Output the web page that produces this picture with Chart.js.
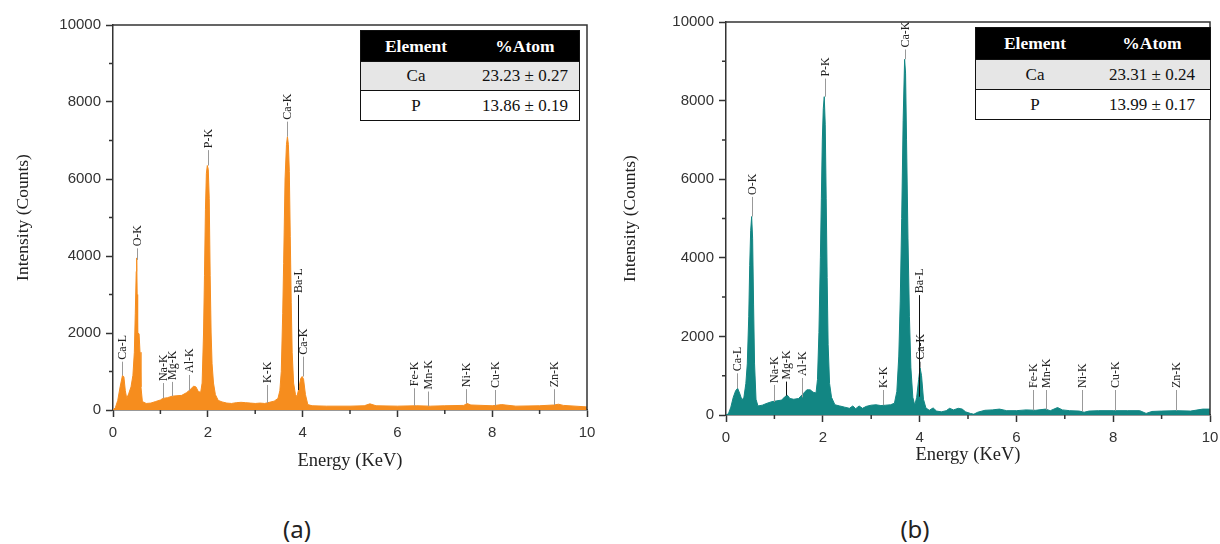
<!DOCTYPE html>
<html>
<head>
<meta charset="utf-8">
<script src="https://cdn.jsdelivr.net/npm/chart.js@4.4.0/dist/chart.umd.min.js"></script>
<style>
  body { margin: 0; width: 1220px; height: 544px; background: #fff; position: relative; overflow: hidden; }
  .box { position: absolute; top: 0; height: 480px; }
  #boxA { left: 0; width: 600px; }
  #boxB { left: 610px; width: 610px; }
  table.atom { position: absolute; border-collapse: collapse; font-family: "Liberation Serif", serif; font-size: 17px; color: #111; background: #fff; }
  table.atom td, table.atom th { padding: 0; text-align: center; border-bottom: 1px solid #111; }
  table.atom th { background: #000; color: #fff; font-weight: bold; font-size: 17.5px; }
  table.atom tr.grey td { background: #e6e6e6; }
  table.atom { border: 1.5px solid #111; }
  #tabA { left: 360px; top: 30px; width: 220px; }
  #tabB { left: 975px; top: 27px; width: 236px; }
  .panel { position: absolute; top: 512px; font-family: "Noto Sans", sans-serif; font-size: 24px; color: #222; transform: translateX(-50%); }
</style>
</head>
<body>
<div class="box" id="boxA"><canvas id="chartA" width="600" height="480"></canvas></div>
<div class="box" id="boxB"><canvas id="chartB" width="610" height="480"></canvas></div>

<table class="atom" id="tabA">
  <tr style="height:31px"><th style="width:110px">Element</th><th>%Atom</th></tr>
  <tr class="grey" style="height:29px"><td>Ca</td><td>23.23 ± 0.27</td></tr>
  <tr style="height:30px"><td>P</td><td>13.86 ± 0.19</td></tr>
</table>
<table class="atom" id="tabB">
  <tr style="height:32px"><th style="width:118px">Element</th><th>%Atom</th></tr>
  <tr class="grey" style="height:30px"><td>Ca</td><td>23.31 ± 0.24</td></tr>
  <tr style="height:30px"><td>P</td><td>13.99 ± 0.17</td></tr>
</table>

<div class="panel" style="left:297px">(a)</div>
<div class="panel" style="left:915px">(b)</div>

<script>
// spectrum (a)
const energyA = [0.00, 0.05, 0.10, 0.15, 0.20, 0.23, 0.26, 0.29, 0.33, 0.38, 0.42, 0.45, 0.47, 0.49, 0.50, 0.51,
  0.52, 0.55, 0.57, 0.59, 0.62, 0.70, 0.80, 0.90, 1.00, 1.05, 1.15, 1.25, 1.35, 1.45, 1.55, 1.62, 1.70, 1.75,
  1.80, 1.85, 1.88, 1.91, 1.93, 1.95, 1.97, 1.99, 2.01, 2.03, 2.05, 2.07, 2.09, 2.12, 2.16, 2.22, 2.30, 2.40,
  2.50, 2.60, 2.70, 2.80, 2.90, 3.00, 3.10, 3.20, 3.30, 3.40, 3.48, 3.52, 3.55, 3.58, 3.60, 3.63, 3.66, 3.68,
  3.70, 3.72, 3.74, 3.76, 3.78, 3.81, 3.85, 3.88, 3.92, 3.96, 3.99, 4.02, 4.06, 4.11, 4.20, 4.50, 5.00, 5.30,
  5.42, 5.55, 6.00, 6.40, 6.70, 7.00, 7.40, 7.47, 7.55, 8.00, 8.20, 8.50, 9.00, 9.30, 9.40, 9.50, 10.00];
const countsA = [0, 60, 250, 600, 900, 860, 500, 300, 420, 600, 900, 1500, 2500, 3600, 3950, 3000,
  2000, 1980, 1500, 600, 220, 170, 180, 220, 260, 300, 320, 360, 370, 380, 450, 520, 620, 600,
  480, 460, 700, 2000, 3500, 5200, 6150, 6350, 6250, 5500, 3500, 2000, 1200, 700, 400, 250, 210, 180,
  170, 190, 200, 190, 180, 170, 180, 170, 200, 230, 300, 500, 1000, 2500, 3800, 6000, 6900, 7100,
  6900, 6200, 4500, 2800, 1500, 700, 400, 350, 550, 820, 870, 800, 400, 140, 110, 100, 100, 110,
  160, 110, 100, 110, 100, 110, 120, 170, 130, 110, 140, 100, 110, 130, 150, 120, 80];

// spectrum (b)
const energyB = [0.00, 0.05, 0.10, 0.15, 0.20, 0.24, 0.28, 0.33, 0.37, 0.41, 0.44, 0.47, 0.49, 0.51, 0.53, 0.55,
  0.57, 0.59, 0.62, 0.66, 0.75, 0.85, 0.95, 1.05, 1.15, 1.22, 1.27, 1.32, 1.40, 1.50, 1.60, 1.67, 1.74, 1.80,
  1.86, 1.89, 1.92, 1.95, 1.97, 1.99, 2.01, 2.03, 2.05, 2.07, 2.09, 2.11, 2.14, 2.18, 2.25, 2.35, 2.45, 2.55,
  2.62, 2.68, 2.75, 2.82, 2.90, 3.00, 3.10, 3.20, 3.30, 3.40, 3.48, 3.53, 3.57, 3.60, 3.63, 3.66, 3.69, 3.71,
  3.73, 3.76, 3.79, 3.82, 3.86, 3.90, 3.94, 3.98, 4.01, 4.04, 4.08, 4.13, 4.20, 4.28, 4.35, 4.45, 4.55, 4.62,
  4.70, 4.80, 4.88, 4.95, 5.05, 5.12, 5.20, 5.35, 5.50, 5.65, 5.80, 6.00, 6.20, 6.40, 6.60, 6.70, 6.85, 6.95,
  7.10, 7.30, 7.40, 7.50, 7.70, 8.00, 8.30, 8.55, 8.68, 8.80, 9.00, 9.30, 9.60, 9.85, 10.00];
const countsB = [0, 30, 200, 450, 620, 680, 560, 380, 450, 800, 1300, 2500, 3800, 4700, 5050, 4500,
  2800, 1300, 400, 230, 250, 300, 340, 360, 380, 470, 500, 420, 400, 420, 550, 640, 640, 580,
  560, 900, 2100, 4000, 5500, 7000, 7800, 8100, 7400, 5500, 3500, 1800, 800, 450, 260, 230, 200, 170,
  230, 160, 230, 170, 220, 250, 260, 240, 250, 260, 300, 600, 1500, 2900, 5000, 7500, 9050, 8700,
  7000, 4500, 2500, 1200, 450, 250, 450, 900, 1200, 1000, 400, 180, 120, 180, 100, 80, 110, 170,
  130, 170, 150, 80, 40, 20, 70, 120, 130, 150, 110, 110, 130, 120, 150, 110, 190, 130,
  110, 100, 70, 100, 110, 110, 110, 110, 40, 90, 100, 110, 100, 150, 150];

// peak labels: name, energy, top of marker line, bottom of marker line (counts)
const peakNamesA = ['Ca-L', 'O-K', 'Na-K', 'Mg-K', 'Al-K', 'P-K', 'K-K', 'Ca-K', 'Ba-L', 'Ca-K', 'Fe-K', 'Mn-K', 'Ni-K', 'Cu-K', 'Zn-K'];
const peakEnergyA = [0.20, 0.50, 1.05, 1.25, 1.60, 2.00, 3.24, 3.68, 3.91, 4.00, 6.35, 6.65, 7.45, 8.06, 9.31];
const peakTopA = [1255, 4200, 700, 730, 910, 6750, 650, 7490, 2990, 1385, 565, 480, 540, 520, 540];
const peakBaseA = [900, 3900, 300, 360, 500, 6350, 180, 7100, 520, 870, 110, 100, 170, 110, 130];

const peakNamesB = ['Ca-L', 'O-K', 'Na-K', 'Mg-K', 'Al-K', 'P-K', 'K-K', 'Ca-K', 'Ba-L', 'Ca-K', 'Fe-K', 'Mn-K', 'Ni-K', 'Cu-K', 'Zn-K'];
const peakEnergyB = [0.22, 0.53, 0.99, 1.24, 1.56, 2.04, 3.24, 3.69, 3.98, 4.01, 6.34, 6.62, 7.36, 8.03, 9.30];
const peakTopB = [1060, 5550, 763, 850, 940, 8560, 636, 9300, 3050, 1356, 636, 636, 636, 636, 636];
const peakBaseB = [680, 5050, 330, 490, 450, 8100, 250, 9050, 466, 1200, 120, 130, 90, 110, 110];

const axisColor = '#333';

const frameAndMinor = {
    id: 'frameAndMinor',
    afterDraw(chart) {
        const { ctx, chartArea: a, scales: { x, y } } = chart;
        ctx.save();
        ctx.strokeStyle = axisColor;
        ctx.lineWidth = 1.5;
        ctx.beginPath();
        ctx.moveTo(a.left, a.top);
        ctx.lineTo(a.right, a.top);
        ctx.lineTo(a.right, a.bottom);
        // minor ticks
        for (let v = 1; v < 10; v += 2) {
            const px = x.getPixelForValue(v);
            ctx.moveTo(px, a.bottom);
            ctx.lineTo(px, a.bottom + 4);
        }
        for (let v = 1000; v < 10000; v += 2000) {
            const py = y.getPixelForValue(v);
            ctx.moveTo(a.left, py);
            ctx.lineTo(a.left - 4, py);
        }
        ctx.stroke();
        ctx.restore();
    }
};

const peakLabels = {
    id: 'peakLabels',
    afterDatasetsDraw(chart, args, opts) {
        const { ctx, scales: { x, y } } = chart;
        ctx.save();
        ctx.font = '12px "Liberation Serif", serif';
        ctx.textAlign = 'left';
        ctx.textBaseline = 'middle';
        opts.names.forEach((name, i) => {
            const px = Math.round(x.getPixelForValue(opts.energy[i])) + 0.5;
            const y1 = y.getPixelForValue(opts.top[i]);
            const y2 = y.getPixelForValue(opts.base[i]);
            ctx.strokeStyle = opts.dark.includes(name) ? '#111' : '#999';
            ctx.lineWidth = 1;
            ctx.beginPath();
            ctx.moveTo(px, y1);
            ctx.lineTo(px, y2);
            ctx.stroke();
            ctx.fillStyle = '#222';
            ctx.save();
            ctx.translate(px, y1 - 2);
            ctx.rotate(-Math.PI / 2);
            ctx.fillText(name, 0, 0);
            ctx.restore();
        });
        ctx.restore();
    }
};

function makeChart(id, energy, counts, color, peaks, dims) {
    new Chart(document.getElementById(id), {
        type: 'line',
        data: {
            datasets: [{
                data: energy.map((e, i) => ({ x: e, y: counts[i] })),
                borderColor: color,
                backgroundColor: color,
                borderWidth: 1,
                fill: 'origin',
                pointRadius: 0,
                tension: 0
            }]
        },
        options: {
            responsive: false,
            animation: false,
            devicePixelRatio: 1,
            layout: { padding: { left: dims.padLeft, top: dims.padTop, right: dims.padRight, bottom: 0 } },
            plugins: {
                legend: { display: false },
                tooltip: { enabled: false },
                peakLabels: peaks
            },
            scales: {
                x: {
                    type: 'linear',
                    min: 0,
                    max: 10,
                    ticks: { stepSize: 2, color: axisColor, font: { family: '"Liberation Sans", Arial', size: 15 }, padding: 7, maxRotation: 0, callback: v => String(v) },
                    grid: { drawOnChartArea: false, tickLength: 7, color: axisColor, tickWidth: 1.5 },
                    border: { color: axisColor, width: 1.5 },
                    title: { display: true, text: 'Energy (KeV)', color: '#222', font: { family: '"Liberation Serif", serif', size: 18.5 }, padding: { top: 0, bottom: dims.xTitlePad } },
                    afterFit: s => { s.height = dims.xHeight; s.paddingLeft = 0; s.paddingRight = 0; }
                },
                y: {
                    min: 0,
                    max: 10000,
                    ticks: { stepSize: 2000, color: axisColor, font: { family: '"Liberation Sans", Arial', size: 15 }, padding: 5, callback: v => String(v) },
                    grid: { drawOnChartArea: false, tickLength: 7, color: axisColor, tickWidth: 1.5 },
                    border: { color: axisColor, width: 1.5 },
                    title: { display: true, text: 'Intensity (Counts)', color: '#222', font: { family: '"Liberation Serif", serif', size: 17.5 }, padding: { top: 4, bottom: 0 } },
                    afterFit: s => { s.width = dims.yWidth; s.paddingTop = 0; s.paddingBottom = 0; }
                }
            }
        },
        plugins: [peakLabels, frameAndMinor]
    });
}

makeChart('chartA', energyA, countsA, '#f68d1e',
    { names: peakNamesA, energy: peakEnergyA, top: peakTopA, base: peakBaseA, dark: ['Ba-L'] },
    { padLeft: 9, padTop: 25, padRight: 13, yWidth: 104, xHeight: 70, xTitlePad: 8 });

makeChart('chartB', energyB, countsB, '#128683',
    { names: peakNamesB, energy: peakEnergyB, top: peakTopB, base: peakBaseB, dark: ['Mg-K', 'Ba-L'] },
    { padLeft: 6, padTop: 22, padRight: 10, yWidth: 110, xHeight: 65, xTitlePad: 14 });
</script>
</body>
</html>
